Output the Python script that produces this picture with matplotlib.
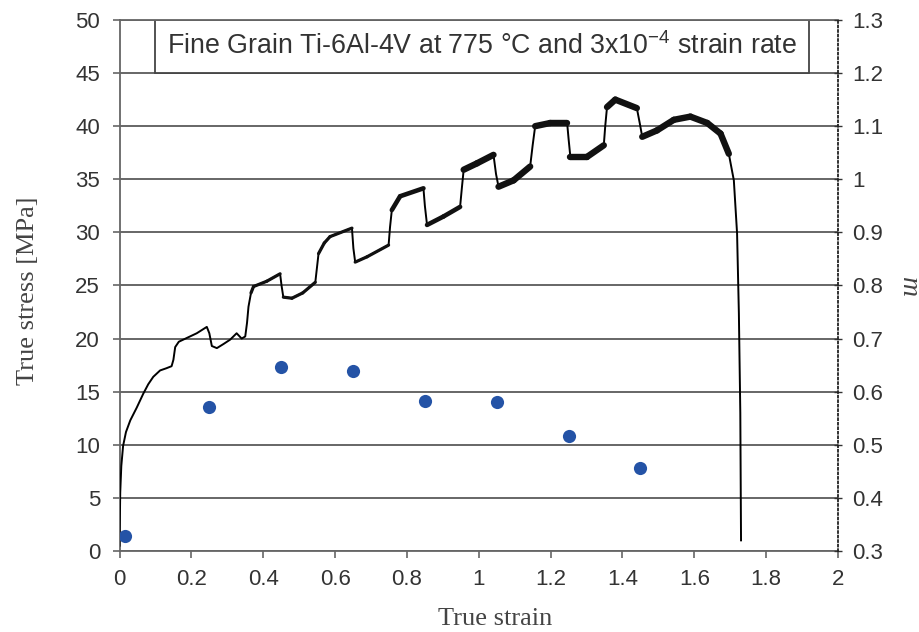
import matplotlib
matplotlib.use("Agg")
import matplotlib.pyplot as plt
import numpy as np
from matplotlib.collections import LineCollection
from matplotlib.patches import Rectangle
from matplotlib.ticker import FormatStrFormatter, MultipleLocator

plt.rcParams['font.family'] = ['Liberation Sans', 'DejaVu Sans']
plt.rcParams['mathtext.fontset'] = 'custom'
plt.rcParams['mathtext.rm'] = 'Liberation Sans'
plt.rcParams['mathtext.it'] = 'Liberation Sans:italic'

# ---------------- data ----------------
strain = [0.000, 0.001, 0.002, 0.005, 0.010, 0.018, 0.030, 0.048, 0.066, 0.080,
          0.094, 0.113, 0.130, 0.145, 0.150, 0.155, 0.165, 0.190, 0.215, 0.243,
          0.250, 0.257, 0.271, 0.290, 0.308, 0.326, 0.340, 0.350, 0.355, 0.359,
          0.366, 0.373, 0.410, 0.447, 0.451, 0.456, 0.480, 0.510, 0.545, 0.550,
          0.554, 0.570, 0.586, 0.647, 0.651, 0.656, 0.689, 0.749, 0.753, 0.758,
          0.781, 0.846, 0.850, 0.856, 0.902, 0.948, 0.953, 0.958, 0.995, 1.041,
          1.048, 1.055, 1.097, 1.143, 1.150, 1.157, 1.199, 1.246, 1.250, 1.255,
          1.301, 1.348, 1.352, 1.357, 1.380, 1.440, 1.448, 1.455, 1.496, 1.543,
          1.589, 1.636, 1.673, 1.696, 1.710, 1.719, 1.724, 1.728, 1.730]
stress = [0.5, 3.0, 5.5, 8.0, 9.9, 11.2, 12.3, 13.5, 14.8, 15.7,
          16.4, 17.0, 17.2, 17.4, 18.0, 19.2, 19.7, 20.1, 20.5, 21.1,
          20.5, 19.3, 19.1, 19.5, 19.9, 20.5, 20.0, 20.2, 21.5, 23.0,
          24.3, 24.9, 25.4, 26.1, 25.0, 23.9, 23.8, 24.3, 25.3, 26.8,
          28.0, 29.0, 29.6, 30.4, 28.5, 27.2, 27.7, 28.8, 30.5, 32.1,
          33.4, 34.15, 32.5, 30.7, 31.5, 32.4, 34.2, 35.9, 36.5, 37.3,
          35.5, 34.3, 34.9, 36.2, 38.2, 40.0, 40.3, 40.3, 38.8, 37.1,
          37.1, 38.2, 40.0, 41.8, 42.5, 41.7, 40.3, 39.0, 39.6, 40.6,
          40.9, 40.3, 39.3, 37.4, 34.9, 29.9, 22.4, 13.0, 1.0]

m_strain = [0.015, 0.25, 0.45, 0.65, 0.85, 1.05, 1.25, 1.45]
m_values = [0.328, 0.572, 0.647, 0.639, 0.582, 0.580, 0.517, 0.457]

title = "Fine Grain Ti-6Al-4V at 775 \u00b0C and 3x10$^{\\mathrm{-4}}$ strain rate"
xlabel = "True strain"
ylabel = "True stress [MPa]"
y2label = "m"

# ---------------- figure ----------------
fig = plt.figure(figsize=(9.2, 6.32), dpi=100)
ax = fig.add_axes([0.1299, 0.1282, 0.7810, 0.8402])
ax2 = ax.twinx()

ax.set_xlim(0, 2)
ax.set_ylim(0, 50)
ax2.set_ylim(0.3, 1.3)

grid_c = '#5a5a5a'
ax.yaxis.set_major_locator(MultipleLocator(5))
ax.xaxis.set_major_locator(MultipleLocator(0.2))
ax2.yaxis.set_major_locator(MultipleLocator(0.1))
ax.grid(axis='y', color=grid_c, lw=1.3)
ax.grid(axis='x', visible=False)
ax.set_axisbelow(True)

# stress curve: thin base line + thicker noisy plateau band
x = np.array(strain)
y = np.array(stress)
ax.plot(x, y, color='black', lw=1.4, zorder=3, solid_joinstyle='round')
segs, widths = [], []
for i in range(len(x) - 1):
    dx = x[i + 1] - x[i]
    dy = y[i + 1] - y[i]
    steep = abs(dy) / max(dx, 1e-9) > 150
    xm = 0.5 * (x[i] + x[i + 1])
    if steep or xm < 0.36:
        continue
    if xm < 0.75:
        w = 2.3
    elif xm < 0.955:
        w = 3.3
    else:
        w = 4.6
    segs.append([(x[i], y[i]), (x[i + 1], y[i + 1])])
    widths.append(w)
lc = LineCollection(segs, linewidths=widths, colors='#111111',
                    capstyle='round', joinstyle='round', zorder=3)
ax.add_collection(lc)

# m values
ax2.scatter(m_strain, m_values, s=90, color='#2453a6', zorder=4, linewidths=0)

# title box
ax.add_patch(Rectangle((0.0494, 0.9), 0.9096, 0.1, transform=ax.transAxes,
                       facecolor='white', edgecolor='#444444', lw=1.3, zorder=2.5))
ax.text(0.5045, 0.951, title, transform=ax.transAxes, ha='center', va='center',
        fontsize=19.3, color='#333333', zorder=5)

# spines
for sp in ['left', 'bottom', 'top']:
    ax.spines[sp].set_color('#666666')
    ax.spines[sp].set_linewidth(1.3)
ax.spines['right'].set_visible(False)
for sp in ['left', 'bottom', 'top']:
    ax2.spines[sp].set_visible(False)
ax2.spines['right'].set_linestyle((0, (1, 1.5)))
ax2.spines['right'].set_color('#222222')
ax2.spines['right'].set_linewidth(1.3)

# ticks
ax.tick_params(axis='y', direction='out', length=5, width=1.2, color='#666666',
               labelsize=16, labelcolor='#333333', pad=9)
ax.tick_params(axis='x', direction='out', length=5, width=1.2, color='#666666',
               labelsize=16, labelcolor='#333333', pad=8)
ax2.tick_params(axis='y', direction='inout', length=6, width=1.0, color='#333333',
                labelsize=16, labelcolor='#333333', pad=7)
fmt = FormatStrFormatter('%g')
ax.xaxis.set_major_formatter(fmt)
ax.yaxis.set_major_formatter(fmt)
ax2.yaxis.set_major_formatter(fmt)

# labels
fig.text(0.538, 0.021, xlabel, ha='center', va='center', fontsize=19,
         family=['Liberation Serif'], color='#444444')
fig.text(0.030, 0.54, ylabel, ha='center', va='center', fontsize=19,
         rotation=90, family=['Liberation Serif'], color='#444444')
fig.text(0.987, 0.546, y2label, ha='center', va='center', fontsize=20,
         rotation=270, family=['Liberation Serif'], style='italic', color='#444444')

fig.savefig('out.png', dpi=100)
